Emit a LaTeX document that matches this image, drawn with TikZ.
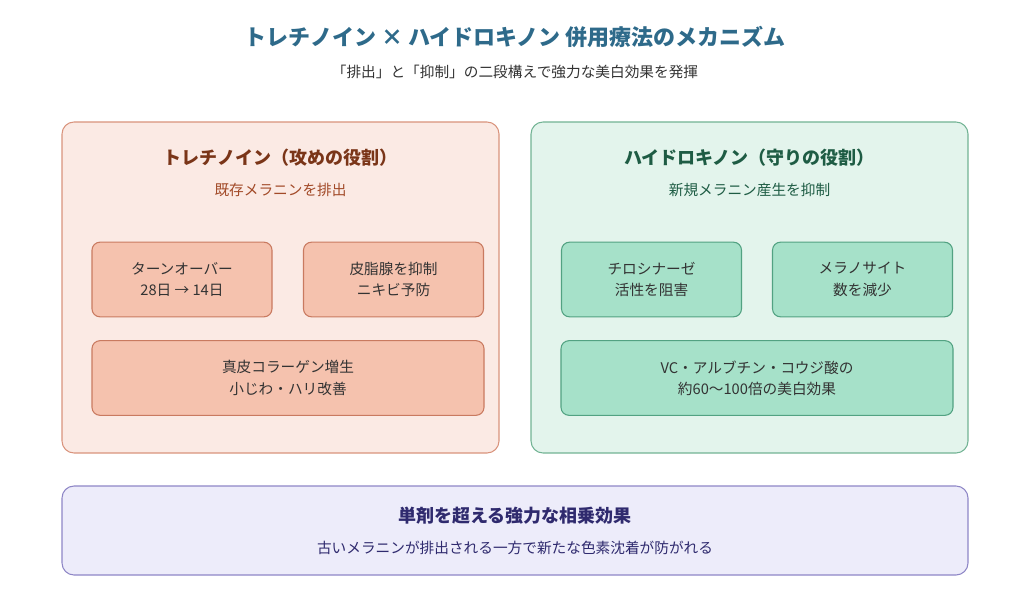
\documentclass[tikz,border=0pt]{standalone}
\usepackage{fontspec}
\setmainfont{Noto Sans CJK JP}
\usetikzlibrary{positioning}
\definecolor{ttl}{HTML}{2E6A8A}
\definecolor{tfill}{HTML}{FBEAE4}
\definecolor{tdraw}{HTML}{D9937C}
\definecolor{tbox}{HTML}{F5C2AE}
\definecolor{tboxd}{HTML}{C97A60}
\definecolor{thead}{HTML}{7A3518}
\definecolor{tsub}{HTML}{A24A28}
\definecolor{hfill}{HTML}{E3F4EC}
\definecolor{hdraw}{HTML}{72B394}
\definecolor{hbox}{HTML}{A6E1C9}
\definecolor{hboxd}{HTML}{52A282}
\definecolor{hhead}{HTML}{1E5C44}
\definecolor{bfill}{HTML}{EDECFA}
\definecolor{bdraw}{HTML}{8E86C6}
\definecolor{bhead}{HTML}{2F2A6E}
\begin{document}
\begin{tikzpicture}[x=0.75pt,y=-0.75pt]

\tikzset{panel/.style={rounded corners=9pt, line width=0.8pt},
  item/.style={rounded corners=6pt, line width=0.8pt, align=center,
    font=\fontsize{11}{16}\selectfont, text=black!80, inner sep=0pt},
  head/.style={font=\bfseries\fontsize{13.5}{16}\selectfont},
  sub/.style={font=\fontsize{11}{14}\selectfont}}

\useasboundingbox (0,0) rectangle (1030,606);

\node[font=\bfseries\fontsize{16.5}{20}\selectfont, text=ttl] (title) at (515,37)
  {トレチノイン × ハイドロキノン 併用療法のメカニズム};
\node[sub, text=black!80] (subtitle) at (515,72)
  {「排出」と「抑制」の二段構えで強力な美白効果を発揮};

% left
\draw[panel, fill=tfill, draw=tdraw] (62,122) rectangle (499,453);
\node[head, text=thead] (trehead) at (280.5,158) {トレチノイン（攻めの役割）};
\node[sub, text=tsub] (tresub) at (280.5,190) {既存メラニンを排出};
\node[item, fill=tbox, draw=tboxd, minimum width=135pt, minimum height=56pt] (turn) at (182,279.5) {ターンオーバー\\28日 → 14日};
\node[item, fill=tbox, draw=tboxd, minimum width=135pt, minimum height=56pt] (sebum) at (393.5,279.5) {皮脂腺を抑制\\ニキビ予防};
\node[item, fill=tbox, draw=tboxd, minimum width=294pt, minimum height=56pt] (coll) at (288,378) {真皮コラーゲン増生\\小じわ・ハリ改善};

% right
\draw[panel, fill=hfill, draw=hdraw] (531,122) rectangle (968,453);
\node[head, text=hhead] (hqhead) at (749.5,158) {ハイドロキノン（守りの役割）};
\node[sub, text=hhead] (hqsub) at (749.5,190) {新規メラニン産生を抑制};
\node[item, fill=hbox, draw=hboxd, minimum width=135pt, minimum height=56pt] (tyro) at (651.5,279.5) {チロシナーゼ\\活性を阻害};
\node[item, fill=hbox, draw=hboxd, minimum width=135pt, minimum height=56pt] (mela) at (862.5,279.5) {メラノサイト\\数を減少};
\node[item, fill=hbox, draw=hboxd, minimum width=294pt, minimum height=56pt] (vc) at (757,378) {VC・アルブチン・コウジ酸の\\約60〜100倍の美白効果};

% bottom
\draw[panel, fill=bfill, draw=bdraw] (62,486) rectangle (968,575);
\node[head, text=bhead] (synhead) at (515,516) {単剤を超える強力な相乗効果};
\node[sub, text=bhead] (synsub) at (515,548) {古いメラニンが排出される一方で新たな色素沈着が防がれる};

\end{tikzpicture}
\end{document}
